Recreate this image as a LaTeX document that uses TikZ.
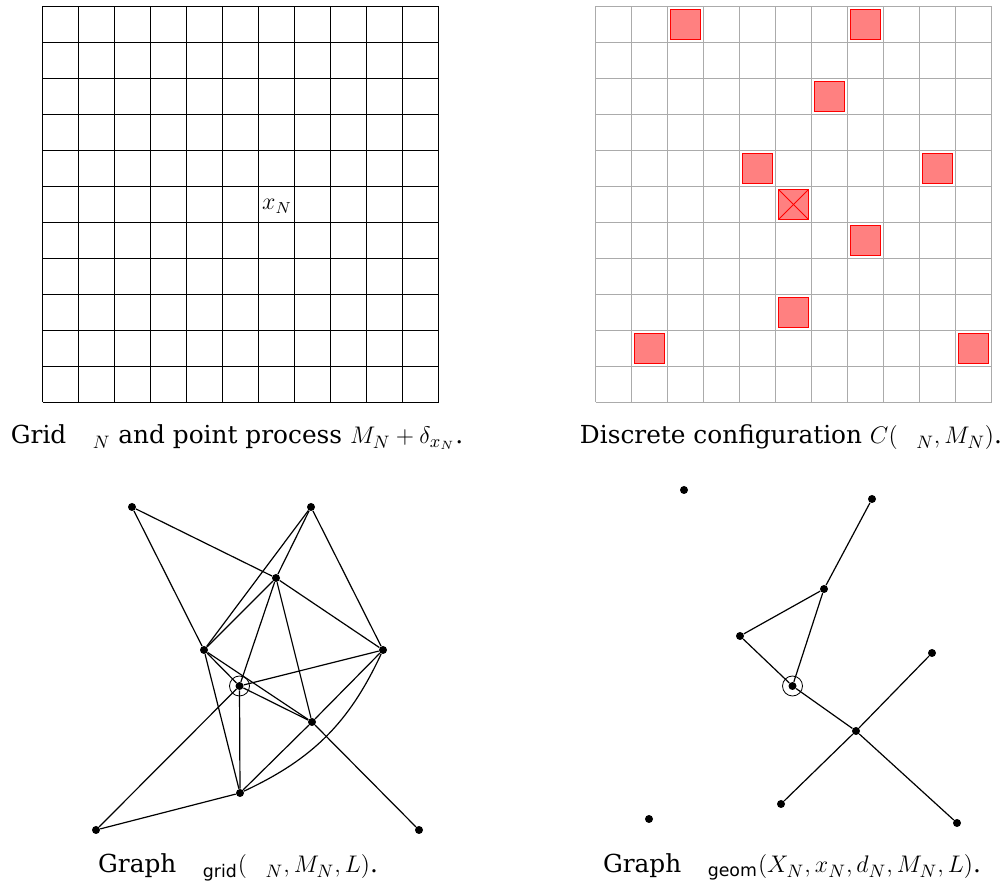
\documentclass[tikz,border=0pt]{standalone}
\usepackage{fontspec}
\setmainfont{DejaVu Serif}
\setsansfont{DejaVu Sans}
\newcommand{\missinggl}{\hspace{0.75em}}
\tikzset{
  gridblack/.style={line width=0.65pt, black},
  gridgray/.style={line width=0.65pt, black!33},
  sq/.style={draw=red, fill=red!50, line width=0.5pt, minimum size=14.7pt, inner sep=0pt},
  dot/.style={circle, fill=black, inner sep=0pt, minimum size=4pt},
  ring/.style={circle, draw=black, line width=0.4pt, inner sep=0pt, minimum size=10pt},
  edge/.style={line width=0.6pt, black},
  caption/.style={anchor=base, inner sep=0pt, font=\fontsize{12.4}{14}\selectfont}
}
\begin{document}
\begin{tikzpicture}[x=0.5pt, y=-0.5pt]
\useasboundingbox (0,0) rectangle (1007,886);
% ---------- left grid ----------
\foreach \i in {0,...,11} {
  \draw[gridblack] ({42.5+36*\i},6.5) -- ({42.5+36*\i},402.5);
  \draw[gridblack] (42.5,{6.5+36*\i}) -- (438.5,{6.5+36*\i});
}
\node[inner sep=0pt, font=\fontsize{11.6}{14}\selectfont] (xN) at (277,206.5) {$x_N$};
\node[caption] (cap1) at (237,444) {Grid \missinggl$_N$ and point process $M_N + \delta_{x_N}$.};
% ---------- right grid ----------
\foreach \i in {0,...,11} {
  \draw[gridgray] ({595.5+36*\i},6.5) -- ({595.5+36*\i},402.5);
  \draw[gridgray] (595.5,{6.5+36*\i}) -- (991.5,{6.5+36*\i});
}
\foreach \c/\r/\nm in {2/0/s1, 7/0/s2, 6/2/s3, 4/4/s4, 9/4/s5, 7/6/s6, 5/8/s7, 1/9/s8, 10/9/s9, 5/5/s0} {
  \node[sq] (\nm) at ({595.5+36*(\c+0.5)},{6.5+36*(\r+0.5)}) {};
}
\draw[red, line width=0.4pt] (s0.north west) -- (s0.south east);
\draw[red, line width=0.4pt] (s0.north east) -- (s0.south west);
\node[caption] (cap2) at (791,444) {Discrete configuration $C(\missinggl_N, M_N)$.};
% ---------- bottom-left graph ----------
\node[dot] (A) at (132,507) {};
\node[dot] (B) at (311,507) {};
\node[dot] (C) at (276,578) {};
\node[dot] (D) at (204,650) {};
\node[dot] (E) at (383,650) {};
\node[dot] (F) at (239.5,686) {};
\node[dot] (G) at (312,722) {};
\node[dot] (H) at (240,793) {};
\node[dot] (I) at (96,830) {};
\node[dot] (J) at (419,830) {};
\node[ring] (Fr) at (F) {};
\foreach \u/\v in {A/C, A/D, B/D, B/C, B/E, C/D, C/F, C/G, C/E, D/F, D/G, D/H, E/F, E/G, F/G, F/H, F/I, G/H, G/J, H/I} {
  \draw[edge] (\u) -- (\v);
}
\draw[edge] (H) to[bend right=20] (E);
\node[caption] (cap3) at (238,873) {Graph $\missinggl_{\mathsf{grid}}(\missinggl_N, M_N, L)$.};
% ---------- bottom-right graph ----------
\node[dot] (P1) at (684,490) {};
\node[dot] (P2) at (872,499) {};
\node[dot] (P3) at (824,589) {};
\node[dot] (P4) at (740,636) {};
\node[dot] (P5) at (792.5,686) {};
\node[dot] (P6) at (932,653) {};
\node[dot] (P7) at (856,731) {};
\node[dot] (P8) at (781,804) {};
\node[dot] (P9) at (649,819) {};
\node[dot] (P10) at (957,823) {};
\node[ring] (P5r) at (P5) {};
\foreach \u/\v in {P2/P3, P3/P4, P3/P5, P4/P5, P5/P7, P6/P7, P7/P8, P7/P10} {
  \draw[edge] (\u) -- (\v);
}
\node[caption] (cap4) at (792,873) {Graph $\missinggl_{\mathsf{geom}}(X_N, x_N, d_N, M_N, L)$.};
\end{tikzpicture}
\end{document}
